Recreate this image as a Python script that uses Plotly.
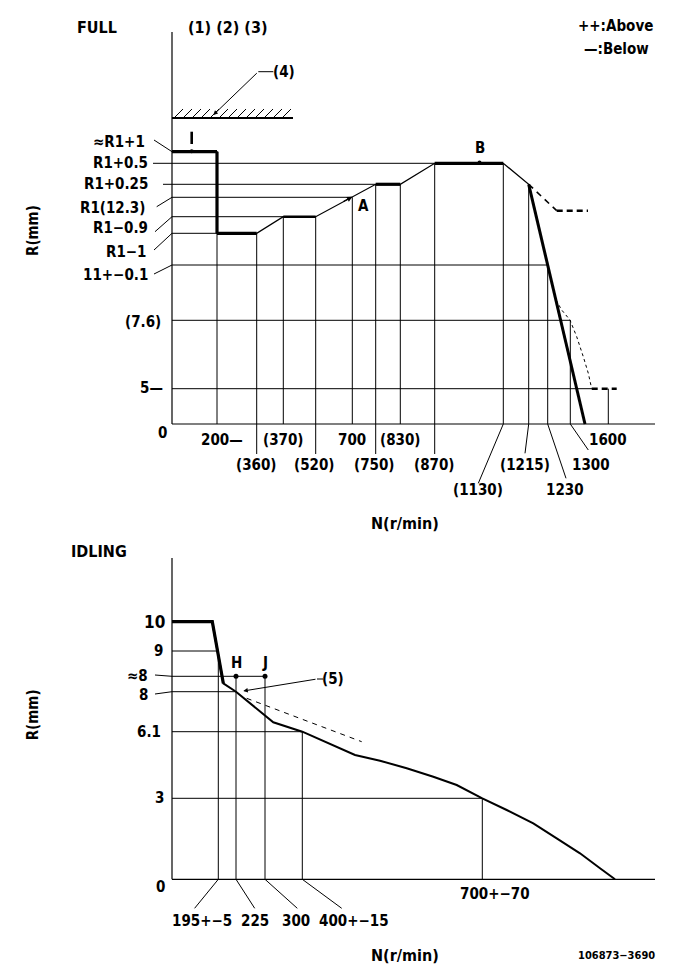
import plotly.graph_objects as go

# ================= DATA (schematic diagram, positions) =================
# ---- FULL chart ----
full_n_labels = ["200", "(360)", "(370)", "(520)", "700", "(750)", "(830)", "(870)",
                 "(1130)", "(1215)", "1230", "1300", "1600"]
full_n_pos = [45, 84.7, 111.3, 143.7, 180.3, 203.7, 228.3, 262.7, 331.3, 356.7, 375.7, 398.3, 436.3]
full_v_top = [190.7, 190.7, 207.3, 207.3, 226.7, 239.7, 239.7, 260.7, 260.7, 239.7, 159, 103.7, 35.3]
full_v_bot = [0, -30, 0, -30, 0, -30, 0, -30, 0, 0, 0, 0, 0]

full_r_labels = ["≈R1+1", "R1+0.5", "R1+0.25", "R1(12.3)", "R1−0.9", "R1−1", "11+−0.1", "(7.6)", "5—", "0"]
full_r_pos = [272.3, 260.7, 239.7, 226.7, 207.3, 190.7, 159, 103.7, 35.3, 0]
full_h_end = [None, 262.7, 203.7, 180.3, 111.3, 45, 375.7, 398.3, 419.7, None]
full_stop_r = 306

full_curve_n = [0, 45, 45, 84.7, 111.3, 143.7, 203.7, 228.3, 262.7, 331.3, 356.7, 413]
full_curve_r = [272.3, 272.3, 190.7, 190.7, 207.3, 207.3, 239.7, 239.7, 260.7, 260.7, 239.7, 0]
full_thick_seg = [(0, 1, 3.2), (1, 2, 3.2), (2, 3, 3.2), (4, 5, 2.4), (6, 7, 3.2), (8, 9, 3.2), (10, 11, 3.0)]

full_above_n = [356.7, 384.7, 416]
full_above_r = [239.7, 213.3, 213.3]
full_below_n = [384, 389.7, 398, 404.7, 411.3, 416.3, 419.7]
full_below_r = [124, 114, 104, 87.3, 67.3, 50.7, 35.3]
full_below_tail_n = [419.7, 444.7]

# ---- IDLING chart ----
idle_n_labels = ["195+−5", "225", "300", "400+−15", "700+−70"]
idle_n_pos = [46.3, 64, 93, 130.3, 310.3]
idle_v_top = [228.3, 203, 203, 147.6, 81]

idle_r_labels = ["10", "9", "≈8", "8", "6.1", "3", "0"]
idle_r_pos = [257.6, 228.3, 203, 187.6, 147.6, 81, 0]
idle_h_end = [None, 46.3, 93, 64, 130.3, 310.3, None]

idle_curve_n = [0, 40.3, 51.3, 64, 101.3, 130.3, 183, 208, 234.7, 261.3, 284.7, 310.3,
                334.7, 361.3, 384.7, 408, 428, 443]
idle_curve_r = [257.6, 257.6, 196, 187.6, 157, 147.6, 124.3, 118.6, 111, 102.6, 94.3, 81,
                69.3, 56, 41, 26, 11, 0]
idle_dash_n = [74.7, 189.7]
idle_dash_r = [181, 137.6]

# ================= FIGURE =================
FONT = "DejaVu Sans Condensed, Liberation Sans Narrow, Roboto Condensed, DejaVu Sans, sans-serif"
PAGE_OFF = 8  # browser body margin
fig = go.Figure()
ann = []


def line(xs, ys, w=1.2, dash="solid", yax="y"):
    fig.add_trace(go.Scatter(x=xs, y=ys, mode="lines", yaxis=yax,
                             line=dict(color="black", width=w, dash=dash),
                             hoverinfo="skip", showlegend=False))


def text(x, y, s, size=15, xa="center", yax="y", angle=0):
    ann.append(dict(x=x, y=y, xref="x", yref=yax, text=s, showarrow=False,
                    xanchor=xa, yanchor="middle", textangle=angle,
                    font=dict(family=FONT, size=size, color="black", weight="bold")))


# ---------- FULL ----------
X_END = 483
line([0, 0], [0, 392])
line([0, X_END], [0, 0])
# stop line + hatching
line([0, 121], [full_stop_r, full_stop_r], w=2.2)
hx, hy = [], []
for i in range(13):
    x0 = 3 + i * 9
    hx += [x0, x0 + 8, None]
    hy += [full_stop_r + 1, full_stop_r + 9, None]
line(hx, hy, w=1)
# (4) leader
ann.append(dict(x=41.3, y=309, ax=86.3, ay=352.3, xref="x", yref="y", axref="x", ayref="y",
                text="", showarrow=True, arrowhead=2, arrowsize=0.9, arrowwidth=1, arrowcolor="black"))
line([86.3, 101.3], [352.3, 352.3], w=1)
text(112, 352, "(4)")

# horizontal reference lines
starts = {1: -19, 2: -9}
for i, (lab, r, e) in enumerate(zip(full_r_labels, full_r_pos, full_h_end)):
    if e is not None:
        line([starts.get(i, 0), e], [r, r], w=1)
# slanted leaders
for (x0, y0, r) in [(-18, 284, 272.3), (-15.3, 217.3, 226.7), (-17, 192.3, 207.3),
                    (-18, 174, 190.7), (-18, 150, 159)]:
    line([x0, 0], [y0, r], w=1)

# vertical reference lines
for n, t, b in zip(full_n_pos, full_v_top, full_v_bot):
    line([n, n], [b, t], w=1)
# leaders to lower labels
for n, lx, ly in [(331.3, 306.3, -59.3), (356.7, 353, -29.3), (375.7, 394, -54.3), (398.3, 416.3, -26)]:
    line([n, lx], [0, ly], w=1)

# curves
line(full_curve_n, full_curve_r, w=1.3)
for a, b, w in full_thick_seg:
    line(full_curve_n[a:b + 1], full_curve_r[a:b + 1], w=w)
line(full_above_n[:2], full_above_r[:2], w=1.6, dash="6px,5px")
line(full_above_n[1:], full_above_r[1:], w=2.6, dash="6px,4px")
line(full_below_n, full_below_r, w=1, dash="3px,3px")
line(full_below_tail_n, [full_r_pos[8]] * 2, w=2.6, dash="6px,4px")

# markers I, A, B
line([19.7, 19.7], [280, 292.3], w=2.6)
fig.add_trace(go.Scatter(x=[19.7, 307.5], y=[272.8, 261.5], mode="markers", yaxis="y",
                         marker=dict(color="black", size=4), hoverinfo="skip", showlegend=False))
ann.append(dict(x=180.3, y=227.3, ax=170, ay=221.7, xref="x", yref="y", axref="x", ayref="y",
                text="", showarrow=True, arrowhead=2, arrowsize=0.9, arrowwidth=1.2, arrowcolor="black"))
text(191, 218, "A")
text(307.5, 276, "B")

# y labels
r_label_x = [-25, -22, -22, -25, -22, -24, -22, -9, -7]
r_label_y = [282, 261, 240, 216, 196, 172, 149, 102, 36]
for lab, lx, ly in zip(full_r_labels[:-1], r_label_x, r_label_y):
    text(lx, ly, lab, xa="right")
text(-10, -9, "0")

# x labels
n_label_x = [49.5, 84, 111, 142, 180, 202, 228, 262, 305.5, 353, 393, 419, 436]
row_y = [-16, -41, -66]
n_rows = [0, 1, 0, 1, 0, 1, 0, 1, 2, 1, 2, 1, 0]
for k, (lab, lx, rw) in enumerate(zip(full_n_labels, n_label_x, n_rows)):
    text(lx, row_y[rw], lab + ("—" if k == 0 else ""))

text(-75, 397, "FULL", size=16)
text(56, 397, "(1) (2) (3)", size=16)
text(443, 398, "++:Above", size=15)
text(444, 375, "—:Below", size=15)
text(-139, 193, "R(mm)", angle=-90)
text(233, -99, "N(r/min)", size=16)

# ---------- IDLING ----------
Y2 = "y2"
line([0, 0], [0, 321.3], yax=Y2)
line([0, X_END], [0, 0], yax=Y2)
for lab, r, e in zip(idle_r_labels, idle_r_pos, idle_h_end):
    if e is not None:
        line([0, e], [r, r], w=1, yax=Y2)
line([-17, 0], [204.3, 203], w=1, yax=Y2)
line([-17, 0], [185.3, 187.6], w=1, yax=Y2)
for n, t in zip(idle_n_pos, idle_v_top):
    line([n, n], [0, t], w=1, yax=Y2)
for n, lx in [(46.3, 22.6), (64, 82.7), (93, 125.3), (130.3, 169.7)]:
    line([n, lx], [0, -29], w=1, yax=Y2)

line(idle_curve_n, idle_curve_r, w=2, yax=Y2)
line(idle_curve_n[:3], idle_curve_r[:3], w=3.2, yax=Y2)
line(idle_dash_n, idle_dash_r, w=1, dash="5px,5px", yax=Y2)

fig.add_trace(go.Scatter(x=[64, 93], y=[203, 203], mode="markers", yaxis=Y2,
                         marker=dict(color="black", size=5), hoverinfo="skip", showlegend=False))
text(64, 216, "H", yax=Y2)
text(93, 216, "J", yax=Y2)
ann.append(dict(x=71.3, y=188.3, ax=145, ay=200.3, xref="x", yref=Y2, axref="x", ayref=Y2,
                text="", showarrow=True, arrowhead=2, arrowsize=0.9, arrowwidth=1, arrowcolor="black"))
line([145, 151], [200.3, 200.3], w=1, yax=Y2)
text(161.3, 200, "(5)", yax=Y2)

ir_x = [-5, -7, -22, -22, -9, -6]
ir_y = [257.3, 228.3, 203.3, 184.3, 147.3, 81.3]
ir_size = [17, 15, 15, 15, 15, 15]
for lab, lx, ly, sz in zip(idle_r_labels[:-1], ir_x, ir_y, ir_size):
    text(lx, ly, lab, xa="right", yax=Y2, size=sz)
text(-12, -7.7, "0", yax=Y2)

in_x = [30, 82.7, 124, 182, 322.5]
in_y = [-41.4, -41.4, -41.4, -41.4, -15]
for lab, lx, ly in zip(idle_n_labels, in_x, in_y):
    text(lx, ly, lab, yax=Y2)

text(-73, 327.6, "IDLING", size=16, yax=Y2)
text(-139, 164, "R(mm)", angle=-90, yax=Y2)
text(233, -75.7, "N(r/min)", size=16, yax=Y2)
text(444, -75.7, "106873−3690", size=11, yax=Y2)

fig.update_layout(
    width=681 - PAGE_OFF, height=979 - PAGE_OFF, margin=dict(l=0, r=0, t=0, b=0),
    paper_bgcolor="white", plot_bgcolor="rgba(0,0,0,0)",
    xaxis=dict(range=[-172 + PAGE_OFF, 509], visible=False, fixedrange=True),
    yaxis=dict(range=[-555, 424 - PAGE_OFF], visible=False, fixedrange=True),
    yaxis2=dict(range=[-99.7, 879.3 - PAGE_OFF], visible=False, overlaying="y", fixedrange=True),
    annotations=ann, showlegend=False,
)
fig.write_html("out.html")
